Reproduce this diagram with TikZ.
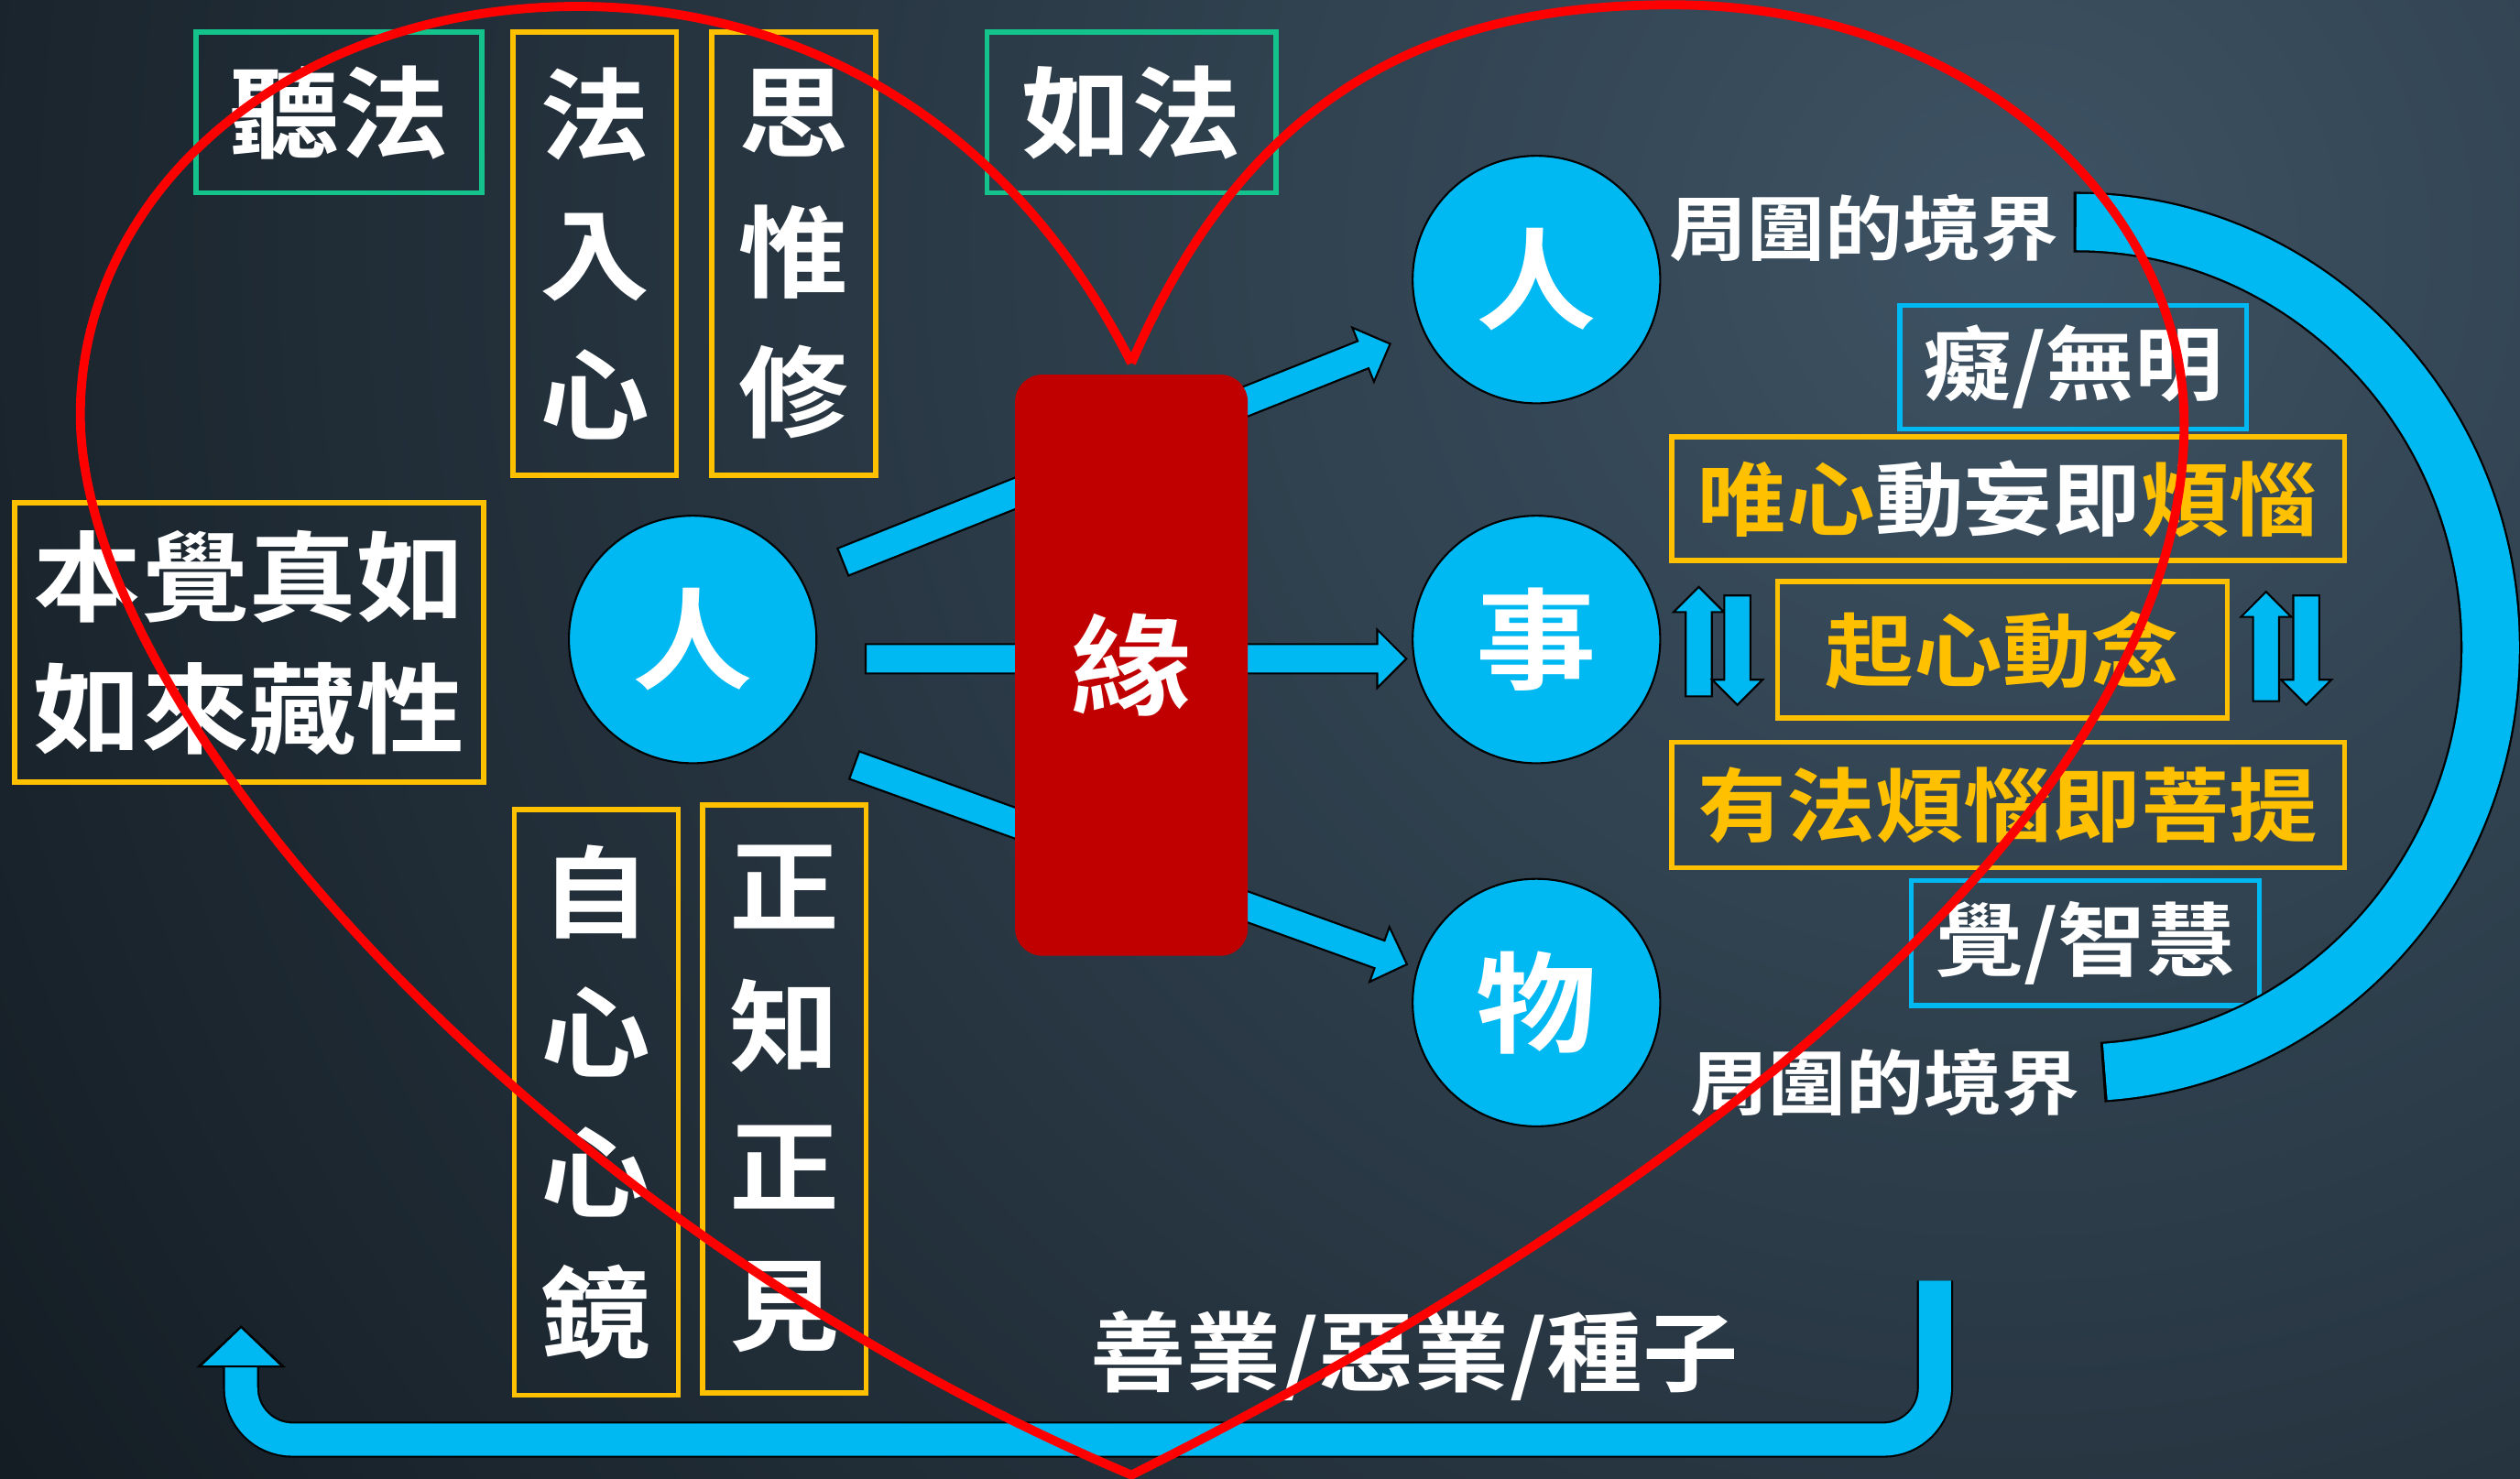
\documentclass[tikz,border=0pt]{standalone}
\usepackage{fontspec}
\usepackage{xcolor}
\usepackage{tikz}
\usetikzlibrary{shapes.arrows, arrows.meta}

\newfontfamily\cjk{Noto Sans CJK TC}[BoldFont={Noto Sans CJK TC Bold}, FakeStretch=1.1]
\newcommand\kaibig{\cjk\bfseries\fontsize{31}{43.5}\selectfont}
\newcommand\kaiwide{\cjk\bfseries\fontsize{30.5}{41}\selectfont}
\newcommand\kaiball{\cjk\bfseries\fontsize{34}{34}\selectfont}
\newcommand\kaimid{\cjk\bfseries\fontsize{25}{25}\selectfont}
\newcommand\kaismall{\cjk\bfseries\fontsize{22}{22}\selectfont}
\newcommand\kaiseed{\cjk\bfseries\fontsize{27}{27}\selectfont}

\definecolor{bgdark}{HTML}{080D11}
\definecolor{bglight}{HTML}{3D5263}
\definecolor{skyblue}{HTML}{00B9F2}
\definecolor{gold}{HTML}{FFC000}
\definecolor{jade}{HTML}{14C28C}
\definecolor{darkred}{HTML}{C00000}
\definecolor{heartred}{HTML}{FF0000}

\tikzset{
    greenbox/.style={draw=jade, line width=1.6pt, inner sep=0pt, text=white},
    goldbox/.style={draw=gold, line width=1.6pt, inner sep=0pt, text=white},
    bluebox/.style={draw=skyblue, line width=1.6pt, inner sep=0pt, text=white},
    ball/.style={shape=circle, draw=black, fill=skyblue, line width=0.6pt, minimum size=76.9pt, inner sep=0pt, text=white, font=\kaiball},
    fatarrow/.style={single arrow, draw=black, fill=skyblue, line width=0.6pt, inner xsep=0pt, inner ysep=4.25pt, single arrow head extend=4.5pt, sloped, pos=0, anchor=tail},
    swaparrow/.style={single arrow, draw=black, fill=skyblue, line width=0.6pt, inner xsep=0pt, inner ysep=3.75pt, minimum height=34pt, single arrow head extend=3.75pt, anchor=tail},
    ringedge/.style={draw=black, line width=18.8pt},
    ring/.style={draw=skyblue, line width=17.5pt},
    loopback/.style={draw=skyblue, line width=10pt, rounded corners=16pt, -{Triangle[length=13pt, width=27pt, color=black, fill=skyblue, line width=0.6pt]}, preaction={draw=black, line width=11.2pt, -{Triangle[length=13pt, width=27pt]}}},
    heart/.style={draw=heartred, line width=2.8pt},
}

\begin{document}
\begin{tikzpicture}[x=0.017545cm, y=-0.017545cm]
    \useasboundingbox (0,0) rectangle (1568,920);
    \begin{scope}
        \clip (0,0) rectangle (1568,920);
        \fill[bgdark] (0,0) rectangle (1568,920);
        \shade[inner color=bglight, outer color=bgdark] (1250,150) circle[radius=1900];
    \end{scope}

    \coordinate (s1) at (524,350);
    \coordinate (e1) at (865,214);
    \coordinate (s2) at (538,410);
    \coordinate (e2) at (875,410);
    \coordinate (s3) at (531,476);
    \coordinate (e3) at (875,600);
    \path (s1) -- (e1) node[fatarrow, minimum height=183pt] (arrow1) {};
    \path (s2) -- (e2) node[fatarrow, minimum height=168pt] (arrow2) {};
    \path (s3) -- (e3) node[fatarrow, minimum height=182.5pt] (arrow3) {};

    \node[shape=rectangle, fill=darkred, rounded corners=8.5pt, minimum width=72.3pt, minimum height=180.6pt, text=white, font=\kaiball] (yuan) at (704,414) {緣};

    \node[ball] (ren0) at (431,398) {人};
    \node[ball] (ren1) at (956,174) {人};
    \node[ball] (shi) at (956,398) {事};
    \node[ball] (wu) at (956,624) {物};

    \node[greenbox, minimum width=88.8pt, minimum height=49.9pt, font=\kaibig] (tingfa) at (211,70) {聽法};
    \node[goldbox, minimum width=50.9pt, minimum height=137.7pt, font=\kaibig, align=center] (faru) at (370,158) {法\\入\\心};
    \node[goldbox, minimum width=50.9pt, minimum height=137.7pt, font=\kaibig, align=center] (siwei) at (494,158) {思\\惟\\修};
    \node[greenbox, minimum width=89.8pt, minimum height=49.9pt, font=\kaibig] (rufa) at (704,70) {如法};
    \node[goldbox, minimum width=145.6pt, minimum height=86.8pt, font=\kaiwide, align=center] (benjue) at (155,400) {本覺真如\\如來藏性};
    \node[goldbox, minimum width=50.9pt, minimum height=182pt, font=\kaibig, align=center] (zixin) at (371,686) {自\\心\\心\\鏡};
    \node[goldbox, minimum width=50.9pt, minimum height=182.6pt, font=\kaibig, align=center] (zhengzhi) at (488,684) {正\\知\\正\\見};

    \node[text=white, font=\kaismall, inner sep=0pt] (jing1) at (1160,142) {周圍的境界};
    \node[text=white, font=\kaismall, inner sep=0pt] (jing2) at (1173,674) {周圍的境界};
    \node[bluebox, minimum width=107.7pt, minimum height=38.4pt, font=\kaimid] (chi) at (1290,228.5) {癡/無明};
    \node[goldbox, minimum width=209pt, minimum height=38.4pt, font=\kaimid] (weixin) at (1249.5,310.5) {{\color{gold}唯心}動妄即{\color{gold}煩惱}};
    \node[goldbox, minimum width=139.7pt, minimum height=42.4pt, font=\kaimid, text=gold] (qixin) at (1246,404.5) {起心動念};
    \node[goldbox, minimum width=209pt, minimum height=38.9pt, font=\kaimid, text=gold] (youfa) at (1249.5,501) {有法煩惱即菩提};
    \node[bluebox, minimum width=108.2pt, minimum height=38.9pt, font=\kaimid] (jue) at (1297.5,587) {覺/智慧};
    \node[text=white, font=\kaiseed, inner sep=0pt] (zhongzi) at (880,844) {善業/惡業/種子};

    \coordinate (hub) at (1292,403);
    \draw[ringedge] (hub) ++(90.4:128.7pt and 132.2pt) arc[start angle=90.4, end angle=-86.4, x radius=128.7pt, y radius=132.2pt];
    \draw[ring] (hub) ++(90:128.7pt and 132.2pt) arc[start angle=90, end angle=-86, x radius=128.7pt, y radius=132.2pt];

    \node[swaparrow, rotate=90] (up1) at (1057,434) {};
    \node[swaparrow, rotate=-90] (down1) at (1081,370) {};
    \node[swaparrow, rotate=90] (up2) at (1410,437) {};
    \node[swaparrow, rotate=-90] (down2) at (1435,370) {};

    \coordinate (u1) at (1204,797);
    \coordinate (u2) at (1204,896);
    \coordinate (u3) at (150,896);
    \coordinate (u4) at (150,825);
    \draw[loopback] (u1) -- (u2) -- (u3) -- (u4);

    \draw[heart] (704,226) .. controls (620,60) and (480,4) .. (360,4)
        .. controls (180,4) and (50,120) .. (50,258)
        .. controls (50,440) and (330,760) .. (704,918)
        .. controls (1100,720) and (1360,480) .. (1359,263)
        .. controls (1359,130) and (1230,3) .. (1040,3)
        .. controls (900,3) and (780,50) .. (704,226);
\end{tikzpicture}
\end{document}
